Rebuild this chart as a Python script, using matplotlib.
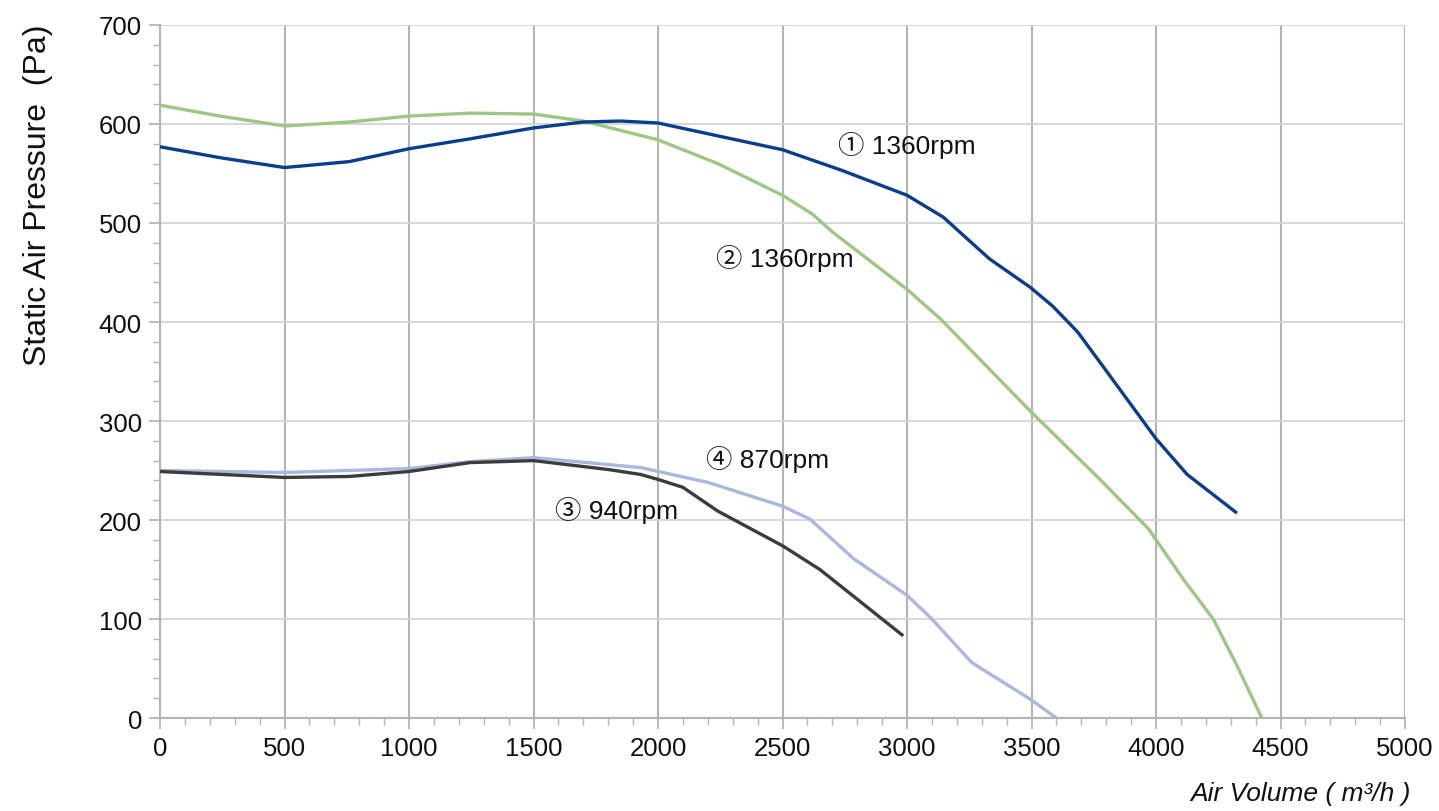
import matplotlib
matplotlib.use("Agg")
import matplotlib.pyplot as plt
from matplotlib.ticker import MultipleLocator

plt.rcParams['font.family'] = ['Liberation Sans', 'Noto Sans CJK SC', 'DejaVu Sans']

# Curve 1: 1360rpm (dark blue)
x1 = [0, 240, 500, 760, 1000, 1245, 1500, 1700, 1850, 2000, 2240, 2500, 2740, 3000, 3145, 3330, 3495, 3585, 3685, 3805, 4000, 4125, 4325]
y1 = [577, 566, 556, 562, 575, 585, 596, 602, 603, 601, 588, 574, 553, 528, 506, 464, 435, 416, 390, 349, 282, 246, 207]

# Curve 2: 1360rpm (green)
x2 = [0, 240, 500, 760, 1000, 1245, 1500, 1700, 2000, 2240, 2500, 2620, 2700, 3000, 3135, 3495, 3775, 3845, 3970, 4110, 4230, 4325, 4425]
y2 = [619, 608, 598, 602, 608, 611, 610, 603, 584, 560, 528, 509, 491, 433, 403, 310, 241, 223, 191, 140, 100, 53, 0]

# Curve 3: 940rpm (dark gray)
x3 = [0, 500, 760, 1000, 1245, 1500, 1800, 1930, 2000, 2100, 2240, 2500, 2650, 2985]
y3 = [249, 243, 244, 249, 258, 260, 251, 246, 241, 233, 209, 174, 150, 83]

# Curve 4: 870rpm (light blue)
x4 = [0, 500, 1000, 1245, 1500, 1930, 2200, 2500, 2610, 2785, 3000, 3100, 3260, 3495, 3600]
y4 = [250, 248, 252, 259, 263, 253, 238, 214, 201, 161, 124, 100, 56, 19, 0]

labels = ["\u2460 1360rpm", "\u2461 1360rpm", "\u2462 940rpm", "\u2463 870rpm"]
label_pos = [(2723, 579), (2233, 465), (1586, 211), (2193, 262)]

fig = plt.figure(figsize=(14.39, 8.12), dpi=100)
ax = fig.add_axes([0.1112, 0.1145, 0.8652, 0.8535])

ax.plot(x1, y1, color='#0a3d8c', lw=2.4, solid_capstyle='butt', solid_joinstyle='round', zorder=4)
ax.plot(x2, y2, color='#9dc883', lw=2.4, solid_capstyle='butt', solid_joinstyle='round', zorder=3)
ax.plot(x3, y3, color='#3c3c3c', lw=2.4, solid_capstyle='butt', solid_joinstyle='round', zorder=3)
ax.plot(x4, y4, color='#aab8dd', lw=2.4, solid_capstyle='butt', solid_joinstyle='round', zorder=2)

for t, (lx, ly) in zip(labels, label_pos):
    ax.text(lx, ly, t, fontsize=19, color='#111111', va='center', ha='left', zorder=5)

ax.set_xlim(0, 5000)
ax.set_ylim(0, 700)
ax.xaxis.set_major_locator(MultipleLocator(500))
ax.xaxis.set_minor_locator(MultipleLocator(100))
ax.yaxis.set_major_locator(MultipleLocator(100))
ax.yaxis.set_minor_locator(MultipleLocator(20))

ax.grid(axis='x', which='major', color='#b4b4b4', lw=1.5)
ax.grid(axis='y', which='major', color='#d4d4d4', lw=1.3)
ax.set_axisbelow(True)

for s in ['top', 'right']:
    ax.spines[s].set_visible(False)
for s in ['left', 'bottom']:
    ax.spines[s].set_color('#b4b4b4')
    ax.spines[s].set_linewidth(1.5)

ax.tick_params(which='major', direction='out', length=8, width=1.3, color='#b4b4b4',
               labelsize=18.5, labelcolor='#111111', pad=5)
ax.tick_params(which='minor', direction='out', length=5, width=1.0, color='#b4b4b4')

ax.set_ylabel("Static Air Pressure  (Pa)", fontsize=23, color='#111111', va='center', ha='center')
ax.yaxis.set_label_coords(-0.098, 0.756)
fig.text(0.98, 0.008, "Air Volume ( m\u00b3/h )", fontsize=19, style='italic',
         ha='right', va='bottom', color='#111111')

fig.savefig("out.png", dpi=100)
